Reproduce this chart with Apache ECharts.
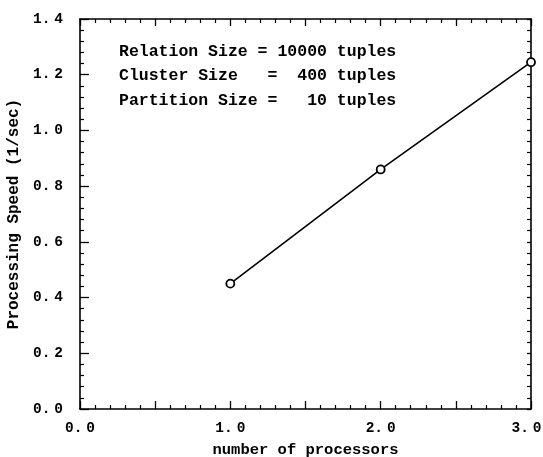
<!DOCTYPE html>
<html>
<head>
<meta charset="utf-8">
<script src="https://cdn.jsdelivr.net/npm/echarts@6/dist/echarts.min.js"></script>
<style>html,body{margin:0;padding:0;background:#fff;}#c{width:543px;height:457px;}</style>
</head>
<body>
<div id="c"></div>
<script>
var processors = [1.0, 2.0, 3.0];
var speed = [0.45, 0.86, 1.245];
var xTicks = [0.0, 1.0, 2.0, 3.0];
var yTicks = [0.0, 0.2, 0.4, 0.6, 0.8, 1.0, 1.2, 1.4];
var annotation = [
  'Relation Size = 10000 tuples',
  'Cluster Size   =  400 tuples',
  'Partition Size =   10 tuples'
];

var FONT = '"Liberation Mono", "DejaVu Sans Mono", monospace';
function fmt(v, last) {
  var s = v.toFixed(1).split('.');
  return '{d|' + s[0] + '.}{s| }{d|' + s[1] + '}' + (last ? '{p|}' : '');
}
var richLab = {
  d: { fontFamily: FONT, fontWeight: 'bold', fontSize: 14.5, color: '#000' },
  s: { fontFamily: FONT, fontSize: 6.5, color: '#000' },
  p: { width: 9, height: 10 }
};
var chart = echarts.init(document.getElementById('c'));
function axLine() { return { show: true, onZero: false, lineStyle: { color: '#000', width: 1.6 } }; }
function tick(len) { return { show: true, inside: true, length: len, lineStyle: { color: '#000', width: 1.3 } }; }
function minor(n) { return { show: true, splitNumber: n, length: 4, lineStyle: { color: '#000', width: 1.2 } }; }

chart.setOption({
  animation: false,
  backgroundColor: '#fff',
  grid: { left: 80, right: 12, top: 19, bottom: 48, containLabel: false, outerBoundsMode: 'none' },
  xAxis: [{
    type: 'value', min: 0, max: 3, interval: 0.5,
    name: 'number of processors', nameLocation: 'middle', nameGap: 33,
    nameTextStyle: { fontFamily: FONT, fontWeight: 'bold', fontSize: 15.5, color: '#000' },
    axisLine: axLine(),
    axisTick: tick(8),
    minorTick: minor(5),
    splitLine: { show: false },
    axisLabel: {
      margin: 12, rich: richLab, showMaxLabel: true, hideOverlap: false,
      fontFamily: FONT, fontWeight: 'bold', fontSize: 14.5, color: '#000',
      formatter: function (v) { return xTicks.indexOf(v) >= 0 ? fmt(v, v === xTicks[xTicks.length - 1]) : ''; }
    }
  }, {
    type: 'value', min: 0, max: 3, interval: 0.5, position: 'top', show: true,
    axisLine: axLine(),
    axisTick: tick(7),
    minorTick: minor(5),
    splitLine: { show: false },
    axisLabel: { show: false }
  }],
  yAxis: [{
    type: 'value', min: 0, max: 1.4, interval: 0.2,
    name: 'Processing Speed (1/sec)', nameLocation: 'middle', nameGap: 49,
    nameTextStyle: { fontFamily: FONT, fontWeight: 'bold', fontSize: 16, color: '#000' },
    axisLine: axLine(),
    axisTick: tick(9),
    minorTick: minor(5),
    splitLine: { show: false },
    axisLabel: {
      margin: 17, rich: richLab,
      fontFamily: FONT, fontWeight: 'bold', fontSize: 14.5, color: '#000',
      formatter: function (v) { return fmt(v, false); }
    }
  }, {
    type: 'value', min: 0, max: 1.4, interval: 0.2, position: 'right', show: true,
    axisLine: axLine(),
    axisTick: tick(4),
    minorTick: minor(5),
    splitLine: { show: false },
    axisLabel: { show: false }
  }],
  graphic: annotation.map(function (t, i) {
    return {
      type: 'text', left: 119, top: 43 + i * 24.5,
      style: { text: t, fontFamily: FONT, fontWeight: 'bold', fontSize: 16.5, fill: '#000' }
    };
  }),
  series: [{
    type: 'line',
    data: processors.map(function (p, i) { return [p, speed[i]]; }),
    symbol: 'circle', symbolSize: 8, showSymbol: true,
    itemStyle: { color: '#fff', borderColor: '#000', borderWidth: 1.8 },
    lineStyle: { color: '#000', width: 1.6 },
    clip: false, z: 5
  }, {
    type: 'line', xAxisIndex: 1, yAxisIndex: 1, data: [], silent: true
  }]
});
</script>
</body>
</html>
